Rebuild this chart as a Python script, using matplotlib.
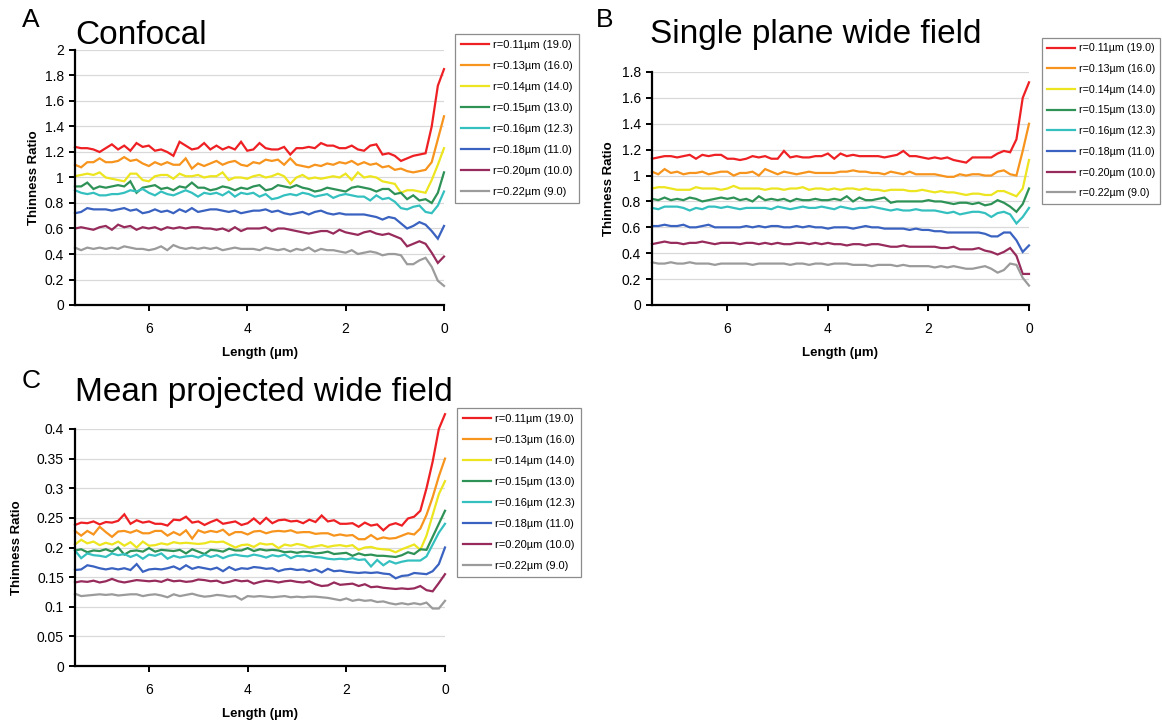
import numpy as np
import matplotlib
matplotlib.use("Agg")
import matplotlib.pyplot as plt
from matplotlib.ticker import FuncFormatter

plt.rcParams['font.family'] = ['Liberation Sans', 'DejaVu Sans']

# distance from the tip (um), 7.5 -> 0, 61 samples
length = np.linspace(7.5, 0, 61)

labels = ["r=0.11\u00b5m (19.0)", "r=0.13\u00b5m (16.0)", "r=0.14\u00b5m (14.0)",
          "r=0.15\u00b5m (13.0)", "r=0.16\u00b5m (12.3)", "r=0.18\u00b5m (11.0)",
          "r=0.20\u00b5m (10.0)", "r=0.22\u00b5m (9.0)"]
colors = ["#ee2024", "#f7941d", "#ece51f", "#2e9257", "#35c0c0",
          "#3a62c0", "#972c5c", "#9b9b9b"]

# ---- A: confocal ----
conf_r011 = [1.24, 1.23, 1.23, 1.22, 1.20, 1.23, 1.26, 1.22, 1.25, 1.21, 1.27, 1.24,
             1.25, 1.21, 1.22, 1.20, 1.17, 1.28, 1.25, 1.22,
             1.23, 1.27, 1.22, 1.25, 1.22, 1.24, 1.22, 1.28,
             1.21, 1.22, 1.27, 1.23, 1.22, 1.22, 1.24, 1.18,
             1.23, 1.23, 1.24, 1.23, 1.27, 1.25, 1.25, 1.23,
             1.23, 1.25, 1.22, 1.21, 1.25, 1.26, 1.18, 1.19,
             1.17, 1.13, 1.15, 1.17, 1.18, 1.19, 1.40, 1.72, 1.85]
conf_r013 = [1.10, 1.08, 1.12, 1.12, 1.15, 1.12, 1.12, 1.13, 1.16, 1.13, 1.14, 1.11,
             1.09, 1.12, 1.10, 1.12, 1.10, 1.10, 1.15, 1.07,
             1.11, 1.09, 1.11, 1.13, 1.10, 1.12, 1.13, 1.10,
             1.09, 1.12, 1.11, 1.14, 1.13, 1.14, 1.10, 1.15,
             1.10, 1.09, 1.08, 1.10, 1.09, 1.11, 1.10, 1.12,
             1.11, 1.13, 1.10, 1.12, 1.10, 1.11, 1.08, 1.09,
             1.06, 1.07, 1.05, 1.04, 1.05, 1.06, 1.12, 1.30, 1.48]
conf_r014 = [1.01, 1.02, 1.03, 1.02, 1.04, 1.00, 0.99, 0.98, 0.97, 1.03, 1.03, 0.98,
             0.97, 1.01, 1.02, 1.02, 0.99, 1.03, 1.01, 1.01,
             1.02, 1.00, 1.01, 1.01, 1.04, 0.98, 1.00, 1.00,
             0.99, 1.01, 1.02, 1.00, 1.01, 1.03, 1.01, 0.95,
             1.00, 1.02, 0.99, 1.00, 0.99, 1.00, 1.01, 1.00,
             1.03, 0.98, 1.04, 1.00, 1.01, 1.00, 0.97, 0.96,
             0.95, 0.88, 0.90, 0.90, 0.89, 0.88, 0.98, 1.10, 1.23]
conf_r015 = [0.93, 0.93, 0.96, 0.91, 0.93, 0.92, 0.93, 0.94, 0.93, 0.97, 0.88, 0.92,
             0.93, 0.94, 0.91, 0.92, 0.90, 0.93, 0.92, 0.96,
             0.92, 0.92, 0.90, 0.91, 0.93, 0.92, 0.90, 0.92,
             0.91, 0.93, 0.94, 0.90, 0.91, 0.94, 0.93, 0.92,
             0.94, 0.92, 0.91, 0.89, 0.90, 0.92, 0.91, 0.90,
             0.89, 0.92, 0.93, 0.92, 0.91, 0.89, 0.91, 0.91,
             0.87, 0.88, 0.83, 0.86, 0.82, 0.83, 0.80, 0.88, 1.04]
conf_r016 = [0.90, 0.88, 0.87, 0.88, 0.86, 0.86, 0.87, 0.87, 0.88, 0.90, 0.89, 0.91,
             0.88, 0.86, 0.89, 0.87, 0.86, 0.88, 0.90, 0.88,
             0.85, 0.88, 0.87, 0.88, 0.86, 0.89, 0.85, 0.88,
             0.87, 0.88, 0.85, 0.87, 0.83, 0.84, 0.86, 0.87,
             0.86, 0.88, 0.87, 0.85, 0.86, 0.87, 0.84, 0.86,
             0.87, 0.86, 0.85, 0.85, 0.82, 0.86, 0.83, 0.84,
             0.81, 0.76, 0.75, 0.77, 0.78, 0.73, 0.72, 0.78, 0.89]
conf_r018 = [0.72, 0.73, 0.76, 0.75, 0.75, 0.75, 0.74, 0.75, 0.76, 0.74, 0.75, 0.72,
             0.73, 0.75, 0.73, 0.74, 0.72, 0.75, 0.73, 0.76,
             0.73, 0.74, 0.75, 0.75, 0.74, 0.73, 0.74, 0.72,
             0.73, 0.74, 0.74, 0.75, 0.73, 0.74, 0.72, 0.71,
             0.72, 0.73, 0.71, 0.73, 0.74, 0.72, 0.71, 0.72,
             0.71, 0.71, 0.71, 0.71, 0.70, 0.69, 0.67, 0.69,
             0.68, 0.64, 0.60, 0.62, 0.65, 0.63, 0.58, 0.52, 0.62]
conf_r020 = [0.60, 0.61, 0.60, 0.59, 0.61, 0.62, 0.59, 0.63, 0.61, 0.62, 0.59, 0.61,
             0.60, 0.61, 0.59, 0.61, 0.60, 0.61, 0.60, 0.61,
             0.61, 0.60, 0.60, 0.59, 0.60, 0.58, 0.61, 0.58,
             0.60, 0.60, 0.60, 0.61, 0.58, 0.60, 0.60, 0.59,
             0.58, 0.57, 0.56, 0.57, 0.58, 0.58, 0.56, 0.59,
             0.57, 0.56, 0.55, 0.57, 0.58, 0.56, 0.55, 0.56,
             0.54, 0.52, 0.46, 0.48, 0.50, 0.48, 0.41, 0.33, 0.38]
conf_r022 = [0.45, 0.43, 0.45, 0.44, 0.45, 0.44, 0.45, 0.44, 0.46, 0.45, 0.44, 0.44,
             0.43, 0.44, 0.46, 0.43, 0.47, 0.45, 0.44, 0.45,
             0.44, 0.45, 0.44, 0.45, 0.43, 0.44, 0.45, 0.44,
             0.44, 0.44, 0.43, 0.45, 0.44, 0.43, 0.44, 0.42,
             0.44, 0.43, 0.45, 0.42, 0.44, 0.43, 0.43, 0.42,
             0.41, 0.43, 0.40, 0.41, 0.42, 0.41, 0.39, 0.40,
             0.40, 0.39, 0.32, 0.32, 0.35, 0.37, 0.30, 0.19, 0.15]

# ---- B: single plane wide field ----
single_r011 = [1.13, 1.14, 1.15, 1.15, 1.14, 1.15, 1.16, 1.13, 1.16, 1.15, 1.16, 1.16,
               1.13, 1.13, 1.12, 1.13, 1.15, 1.14, 1.15, 1.13,
               1.13, 1.19, 1.14, 1.15, 1.14, 1.14, 1.15, 1.15,
               1.17, 1.13, 1.17, 1.15, 1.16, 1.15, 1.15, 1.15,
               1.15, 1.14, 1.15, 1.16, 1.19, 1.15, 1.15, 1.14,
               1.13, 1.14, 1.13, 1.14, 1.12, 1.11, 1.10, 1.14,
               1.14, 1.14, 1.14, 1.17, 1.19, 1.18, 1.28, 1.60, 1.72]
single_r013 = [1.03, 1.01, 1.05, 1.02, 1.03, 1.01, 1.02, 1.02, 1.03, 1.01, 1.02, 1.03,
               1.03, 1.00, 1.02, 1.02, 1.03, 1.00, 1.05, 1.03,
               1.01, 1.03, 1.02, 1.01, 1.02, 1.03, 1.02, 1.02,
               1.02, 1.02, 1.03, 1.03, 1.04, 1.03, 1.03, 1.02,
               1.02, 1.01, 1.03, 1.02, 1.01, 1.03, 1.01, 1.01,
               1.01, 1.01, 1.00, 0.99, 0.99, 1.01, 1.00, 1.01,
               1.01, 1.00, 1.00, 1.03, 1.04, 1.01, 1.00, 1.19, 1.40]
single_r014 = [0.90, 0.91, 0.91, 0.90, 0.89, 0.89, 0.89, 0.91, 0.90, 0.90, 0.90, 0.89,
               0.90, 0.92, 0.90, 0.90, 0.90, 0.90, 0.89, 0.90,
               0.90, 0.89, 0.90, 0.90, 0.91, 0.89, 0.90, 0.90,
               0.89, 0.90, 0.89, 0.90, 0.90, 0.89, 0.90, 0.89,
               0.89, 0.88, 0.89, 0.89, 0.89, 0.88, 0.88, 0.89,
               0.88, 0.87, 0.88, 0.87, 0.87, 0.86, 0.85, 0.86,
               0.86, 0.85, 0.85, 0.88, 0.88, 0.86, 0.84, 0.90, 1.12]
single_r015 = [0.82, 0.81, 0.83, 0.81, 0.82, 0.81, 0.83, 0.82, 0.80, 0.81, 0.82, 0.83,
               0.82, 0.83, 0.81, 0.82, 0.80, 0.84, 0.81, 0.82,
               0.81, 0.82, 0.80, 0.82, 0.81, 0.81, 0.82, 0.81,
               0.81, 0.82, 0.81, 0.84, 0.80, 0.83, 0.81, 0.81,
               0.82, 0.83, 0.79, 0.80, 0.80, 0.80, 0.80, 0.80,
               0.81, 0.80, 0.80, 0.79, 0.78, 0.79, 0.79, 0.78,
               0.79, 0.77, 0.78, 0.81, 0.79, 0.76, 0.72, 0.78, 0.90]
single_r016 = [0.75, 0.74, 0.76, 0.76, 0.76, 0.75, 0.73, 0.75, 0.74, 0.76, 0.76, 0.75,
               0.76, 0.75, 0.74, 0.75, 0.75, 0.75, 0.75, 0.74,
               0.76, 0.75, 0.74, 0.75, 0.76, 0.75, 0.75, 0.76,
               0.75, 0.74, 0.76, 0.75, 0.74, 0.75, 0.75, 0.76,
               0.75, 0.74, 0.73, 0.74, 0.73, 0.73, 0.74, 0.73,
               0.73, 0.73, 0.72, 0.71, 0.72, 0.70, 0.71, 0.72,
               0.72, 0.71, 0.68, 0.71, 0.72, 0.70, 0.63, 0.68, 0.75]
single_r018 = [0.61, 0.61, 0.62, 0.61, 0.61, 0.62, 0.60, 0.60, 0.61, 0.62, 0.60, 0.60,
               0.60, 0.60, 0.60, 0.61, 0.60, 0.61, 0.60, 0.61,
               0.61, 0.60, 0.60, 0.61, 0.60, 0.61, 0.60, 0.60,
               0.59, 0.60, 0.60, 0.60, 0.59, 0.60, 0.61, 0.60,
               0.60, 0.59, 0.59, 0.59, 0.59, 0.58, 0.59, 0.58,
               0.58, 0.57, 0.57, 0.56, 0.56, 0.56, 0.56, 0.56,
               0.56, 0.55, 0.53, 0.53, 0.56, 0.56, 0.50, 0.41, 0.46]
single_r020 = [0.47, 0.48, 0.49, 0.48, 0.48, 0.47, 0.48, 0.48, 0.49, 0.48, 0.47, 0.48,
               0.48, 0.48, 0.47, 0.48, 0.48, 0.47, 0.48, 0.47,
               0.48, 0.47, 0.47, 0.48, 0.48, 0.47, 0.48, 0.47,
               0.48, 0.47, 0.47, 0.46, 0.47, 0.47, 0.46, 0.47,
               0.47, 0.46, 0.45, 0.45, 0.46, 0.45, 0.45, 0.45,
               0.45, 0.45, 0.44, 0.44, 0.45, 0.43, 0.43, 0.43,
               0.44, 0.42, 0.41, 0.39, 0.41, 0.44, 0.38, 0.24, 0.24]
single_r022 = [0.33, 0.32, 0.32, 0.33, 0.32, 0.32, 0.33, 0.32, 0.32, 0.32, 0.31, 0.32,
               0.32, 0.32, 0.32, 0.32, 0.31, 0.32, 0.32, 0.32,
               0.32, 0.32, 0.31, 0.32, 0.32, 0.31, 0.32, 0.32,
               0.31, 0.32, 0.32, 0.32, 0.31, 0.31, 0.31, 0.30,
               0.31, 0.31, 0.31, 0.30, 0.31, 0.30, 0.30, 0.30,
               0.30, 0.29, 0.30, 0.29, 0.30, 0.29, 0.28, 0.28,
               0.29, 0.30, 0.28, 0.25, 0.27, 0.32, 0.31, 0.21, 0.15]

# ---- C: mean projected wide field ----
mean_r011 = [0.238, 0.242, 0.241, 0.244, 0.239, 0.243, 0.242, 0.245, 0.256, 0.240, 0.246, 0.242,
             0.244, 0.240, 0.240, 0.237, 0.247, 0.246, 0.252, 0.242,
             0.244, 0.238, 0.243, 0.247, 0.240, 0.242, 0.244, 0.238,
             0.241, 0.249, 0.240, 0.250, 0.241, 0.246, 0.247, 0.244,
             0.245, 0.241, 0.247, 0.243, 0.254, 0.244, 0.246, 0.240,
             0.240, 0.241, 0.235, 0.242, 0.237, 0.239, 0.229, 0.238,
             0.241, 0.237, 0.249, 0.252, 0.262, 0.300, 0.345, 0.400, 0.425]
mean_r013 = [0.228, 0.220, 0.228, 0.222, 0.235, 0.226, 0.218, 0.227, 0.228, 0.225, 0.229, 0.224,
             0.224, 0.228, 0.228, 0.220, 0.226, 0.221, 0.229, 0.215,
             0.229, 0.225, 0.228, 0.226, 0.230, 0.221, 0.226, 0.226,
             0.222, 0.227, 0.228, 0.224, 0.227, 0.228, 0.227, 0.229,
             0.225, 0.226, 0.226, 0.223, 0.224, 0.224, 0.220, 0.222,
             0.220, 0.221, 0.214, 0.214, 0.221, 0.214, 0.217, 0.215,
             0.216, 0.220, 0.224, 0.222, 0.232, 0.255, 0.285, 0.320, 0.350]
mean_r014 = [0.205, 0.213, 0.207, 0.210, 0.204, 0.208, 0.205, 0.210, 0.203, 0.209, 0.200, 0.210,
             0.203, 0.204, 0.207, 0.205, 0.209, 0.207, 0.208, 0.207,
             0.206, 0.207, 0.210, 0.209, 0.210, 0.205, 0.200, 0.204,
             0.205, 0.201, 0.207, 0.205, 0.206, 0.199, 0.205, 0.203,
             0.206, 0.204, 0.200, 0.202, 0.204, 0.201, 0.203, 0.204,
             0.202, 0.204, 0.196, 0.200, 0.201, 0.198, 0.197, 0.196,
             0.192, 0.197, 0.201, 0.205, 0.196, 0.220, 0.255, 0.290, 0.312]
mean_r015 = [0.195, 0.197, 0.192, 0.195, 0.194, 0.197, 0.193, 0.200, 0.188, 0.194, 0.195, 0.193,
             0.199, 0.193, 0.196, 0.195, 0.194, 0.196, 0.190, 0.197,
             0.193, 0.189, 0.196, 0.195, 0.193, 0.198, 0.195, 0.195,
             0.199, 0.194, 0.197, 0.195, 0.196, 0.195, 0.192, 0.193,
             0.191, 0.193, 0.192, 0.190, 0.191, 0.193, 0.189, 0.190,
             0.191, 0.186, 0.190, 0.187, 0.188, 0.186, 0.186, 0.185,
             0.184, 0.187, 0.192, 0.189, 0.197, 0.196, 0.218, 0.240, 0.262]
mean_r016 = [0.195, 0.182, 0.190, 0.187, 0.186, 0.184, 0.190, 0.187, 0.189, 0.184, 0.188, 0.181,
             0.188, 0.186, 0.190, 0.181, 0.186, 0.183, 0.185, 0.186,
             0.183, 0.188, 0.184, 0.187, 0.182, 0.186, 0.188, 0.186,
             0.185, 0.188, 0.186, 0.183, 0.187, 0.185, 0.188, 0.182,
             0.186, 0.185, 0.186, 0.184, 0.183, 0.181, 0.180, 0.181,
             0.180, 0.182, 0.179, 0.180, 0.168, 0.179, 0.170, 0.177,
             0.173, 0.176, 0.178, 0.178, 0.178, 0.185, 0.205, 0.225, 0.240]
mean_r018 = [0.162, 0.163, 0.170, 0.168, 0.165, 0.163, 0.165, 0.163, 0.165, 0.162, 0.172, 0.159,
             0.163, 0.164, 0.163, 0.165, 0.168, 0.163, 0.170, 0.164,
             0.167, 0.165, 0.163, 0.166, 0.160, 0.167, 0.162, 0.165,
             0.164, 0.167, 0.166, 0.164, 0.165, 0.160, 0.163, 0.164,
             0.162, 0.163, 0.160, 0.163, 0.158, 0.164, 0.160, 0.161,
             0.159, 0.158, 0.157, 0.158, 0.157, 0.158, 0.156, 0.155,
             0.148, 0.152, 0.153, 0.157, 0.156, 0.155, 0.160, 0.172, 0.200]
mean_r020 = [0.141, 0.143, 0.142, 0.144, 0.141, 0.143, 0.147, 0.143, 0.141, 0.143, 0.145, 0.144,
             0.143, 0.144, 0.142, 0.146, 0.143, 0.144, 0.142, 0.143,
             0.146, 0.145, 0.143, 0.144, 0.140, 0.142, 0.145, 0.143,
             0.144, 0.139, 0.142, 0.144, 0.143, 0.141, 0.143, 0.144,
             0.142, 0.141, 0.143, 0.138, 0.135, 0.136, 0.141, 0.137,
             0.138, 0.139, 0.135, 0.138, 0.133, 0.134, 0.132, 0.131,
             0.130, 0.131, 0.130, 0.131, 0.135, 0.128, 0.126, 0.140, 0.155]
mean_r022 = [0.122, 0.118, 0.119, 0.120, 0.121, 0.120, 0.121, 0.119, 0.120, 0.121, 0.121, 0.118,
             0.120, 0.121, 0.119, 0.116, 0.121, 0.118, 0.120, 0.122,
             0.119, 0.117, 0.118, 0.120, 0.119, 0.117, 0.118, 0.112,
             0.118, 0.117, 0.118, 0.117, 0.116, 0.117, 0.118, 0.116,
             0.117, 0.116, 0.117, 0.117, 0.116, 0.115, 0.113, 0.111,
             0.114, 0.110, 0.112, 0.110, 0.111, 0.108, 0.109, 0.106,
             0.104, 0.106, 0.104, 0.106, 0.104, 0.107, 0.097, 0.097, 0.110]

panels = [
    ("A", "Confocal",
     [conf_r011, conf_r013, conf_r014, conf_r015, conf_r016, conf_r018, conf_r020, conf_r022],
     np.arange(0, 2.01, 0.2), 2.0),
    ("B", "Single plane wide field",
     [single_r011, single_r013, single_r014, single_r015, single_r016, single_r018, single_r020, single_r022],
     np.arange(0, 1.81, 0.2), 1.8),
    ("C", "Mean projected wide field",
     [mean_r011, mean_r013, mean_r014, mean_r015, mean_r016, mean_r018, mean_r020, mean_r022],
     np.arange(0, 0.401, 0.05), 0.4),
]

W, H = 1162, 726
fig = plt.figure(figsize=(W / 100, H / 100), dpi=100)

# pixel boxes: plot area (l, t, r, b), legend corner, title, panel letter, ylabel pad, legend font
layout = {
    "A": dict(box=(75, 50, 444, 305), leg=(455, 34), title=(75, 35), letter=(22, 20),
              ypad=3, lfs=8),
    "B": dict(box=(652, 72, 1029, 305), leg=(1042, 38), title=(650, 35), letter=(596, 20),
              ypad=5, lfs=7.7),
    "C": dict(box=(75, 429, 445, 666), leg=(457, 408), title=(75, 393), letter=(22, 381),
              ypad=10, lfs=8),
}

fmt = FuncFormatter(lambda v, p: f"{v:g}")

for letter, title, series, yticks, ytop in panels:
    lay = layout[letter]
    l, t, r, b = lay["box"]
    ax = fig.add_axes([l / W, 1 - b / H, (r - l) / W, (b - t) / H])

    for vals, lab, col in zip(series, labels, colors):
        ax.plot(length, vals, color=col, lw=1.6, label=lab, clip_on=False,
                solid_joinstyle="miter")

    ax.set_xlim(7.5, 0)
    ax.set_ylim(0, ytop)
    ax.set_xticks([6, 4, 2, 0])
    ax.set_yticks(yticks)
    ax.yaxis.set_major_formatter(fmt)
    ax.yaxis.grid(True, color="#d9d9d9", lw=0.9)
    ax.set_axisbelow(True)
    for s in ["top", "right"]:
        ax.spines[s].set_visible(False)
    for s in ["left", "bottom"]:
        ax.spines[s].set_linewidth(1.6)
    ax.tick_params(axis="both", direction="out", length=4, width=1.4, labelsize=10)
    ax.tick_params(axis="x", pad=8)
    ax.tick_params(axis="y", pad=4)

    ax.set_xlabel("Length (\u00b5m)", fontsize=9.5, fontweight="bold", labelpad=8)
    ax.set_ylabel("Thinness Ratio", fontsize=9.5, fontweight="bold", labelpad=lay["ypad"])

    lx, ly = lay["leg"]
    leg = ax.legend(loc="upper left", bbox_to_anchor=(lx / W, 1 - ly / H),
                    bbox_transform=fig.transFigure, fontsize=lay["lfs"], frameon=True,
                    fancybox=False, edgecolor="#8c8c8c", framealpha=1,
                    handlelength=2.6, handletextpad=0.35, labelspacing=1.0,
                    borderpad=0.5, borderaxespad=0)
    leg.get_frame().set_linewidth(0.9)

    tx, ty = lay["title"]
    fig.text(tx / W, 1 - ty / H, title, fontsize=24, va="center", ha="left")
    px, py = lay["letter"]
    fig.text(px / W, 1 - py / H, letter, fontsize=19, va="center", ha="left")

fig.savefig("out.png", dpi=100)
